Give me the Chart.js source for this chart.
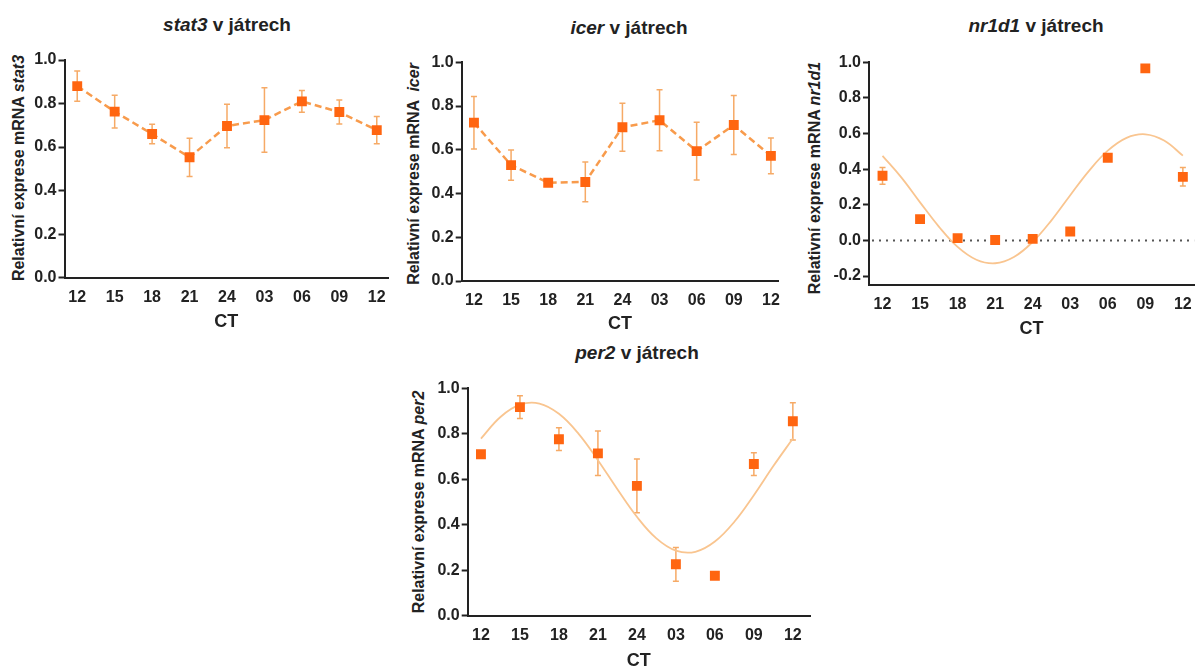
<!DOCTYPE html>
<html>
<head>
<meta charset="utf-8">
<script src="https://cdn.jsdelivr.net/npm/chart.js@4.4.1/dist/chart.umd.min.js"></script>
<style>
  html, body { margin: 0; padding: 0; background: #fff; overflow: hidden; }
  #wrap { position: relative; width: 1202px; height: 668px; }
  canvas { position: absolute; }
  .ttl, .ytl { position: absolute; font-family: 'Liberation Sans', Arial, sans-serif; font-weight: bold; color: #222; white-space: nowrap; }
  .ttl { font-size: 19px; transform: translate(-50%, -50%); }
  .ytl { font-size: 16px; transform: translate(-50%, -50%) rotate(-90deg); }
</style>
</head>
<body>
<div id="wrap">
  <div class="ttl" style="left:227px;top:25px"><i>stat3</i> v játrech</div>
  <div class="ttl" style="left:629px;top:28px"><i>icer</i> v játrech</div>
  <div class="ttl" style="left:1036px;top:26px"><i>nr1d1</i> v játrech</div>
  <div class="ttl" style="left:637px;top:353px"><i>per2</i> v játrech</div>

  <div class="ytl" style="left:19px;top:168px">Relativní exprese mRNA <i>stat3</i></div>
  <div class="ytl" style="left:414px;top:174px">Relativní exprese mRNA &nbsp;<i>icer</i></div>
  <div class="ytl" style="left:815px;top:178px">Relativní exprese mRNA <i>nr1d1</i></div>
  <div class="ytl" style="left:419px;top:502px">Relativní exprese mRNA <i>per2</i></div>

  <canvas id="stat3Chart" width="400" height="335" style="left:0;top:0"></canvas>
  <canvas id="icerChart" width="390" height="337" style="left:400px;top:0"></canvas>
  <canvas id="nr1d1Chart" width="402" height="342" style="left:800px;top:0"></canvas>
  <canvas id="per2Chart" width="420" height="334" style="left:400px;top:340px"></canvas>
</div>
<script>
// CT time points (category index) and their labels
const ctIndex = [0, 1, 2, 3, 4, 5, 6, 7, 8];
const ctLabels = ['12', '15', '18', '21', '24', '03', '06', '09', '12'];

const stat3Mean = [0.88, 0.763, 0.66, 0.553, 0.697, 0.724, 0.81, 0.761, 0.678];
const stat3Sem = [0.07, 0.075, 0.045, 0.088, 0.10, 0.148, 0.05, 0.055, 0.063];

const icerMean = [0.724, 0.53, 0.449, 0.453, 0.703, 0.735, 0.594, 0.713, 0.572];
const icerSem = [0.12, 0.069, 0.008, 0.091, 0.11, 0.14, 0.132, 0.135, 0.082];

const nr1d1Mean = [0.363, 0.12, 0.013, 0.003, 0.009, 0.05, 0.464, 0.966, 0.357];
const nr1d1Sem = [0.047, 0, 0, 0, 0, 0, 0, 0, 0.052];

const per2Mean = [0.71, 0.917, 0.776, 0.714, 0.571, 0.226, 0.176, 0.667, 0.855];
const per2Sem = [0, 0.05, 0.05, 0.098, 0.118, 0.074, 0, 0.05, 0.082];

// fitted cosinor curves, every half step
const fitIndex = [0, 0.5, 1, 1.5, 2, 2.5, 3, 3.5, 4, 4.5, 5, 5.5, 6, 6.5, 7, 7.5, 8];
const nr1d1Fit = [0.475, 0.354, 0.214, 0.078, -0.036, -0.108, -0.128, -0.093, -0.008, 0.113, 0.254, 0.391, 0.504, 0.576, 0.596, 0.561, 0.476];
const per2Fit = [0.779, 0.874, 0.928, 0.933, 0.888, 0.801, 0.684, 0.556, 0.435, 0.340, 0.286, 0.281, 0.326, 0.413, 0.530, 0.658, 0.779];

const yTicks01 = [0, 0.2, 0.4, 0.6, 0.8, 1.0];
const yTicksNr = [-0.2, 0, 0.2, 0.4, 0.6, 0.8, 1.0];

const markColor = '#FF6510';
const dashColor = '#F89B4C';
const errColor = '#F6AA66';
const fitColor = '#F9C590';
const axisColor = '#222';

Chart.defaults.font.family = "'Liberation Sans', Arial, sans-serif";
Chart.defaults.color = axisColor;

const pts = (xs, ys) => xs.map((x, i) => ({x: x, y: ys[i]}));

const errorBars = {
    id: 'errorBars',
    beforeDatasetsDraw(chart) {
        const {ctx, scales: {x, y}} = chart;
        chart.data.datasets.forEach(ds => {
            if (!ds.errors) return;
            ctx.save();
            ctx.strokeStyle = errColor;
            ctx.lineWidth = 1.5;
            ds.data.forEach((p, i) => {
                const e = ds.errors[i];
                if (!e) return;
                const px = x.getPixelForValue(p.x);
                const top = y.getPixelForValue(p.y + e);
                const bot = y.getPixelForValue(p.y - e);
                ctx.beginPath();
                ctx.moveTo(px, top); ctx.lineTo(px, bot);
                ctx.moveTo(px - 3, top); ctx.lineTo(px + 3, top);
                ctx.moveTo(px - 3, bot); ctx.lineTo(px + 3, bot);
                ctx.stroke();
            });
            ctx.restore();
        });
    }
};

const zeroLine = {
    id: 'zeroLine',
    beforeDatasetsDraw(chart) {
        const {ctx, chartArea, scales: {y}} = chart;
        const py = y.getPixelForValue(0);
        ctx.save();
        ctx.strokeStyle = '#555';
        ctx.lineWidth = 2;
        ctx.setLineDash([2, 5]);
        ctx.beginPath();
        ctx.moveTo(chartArea.left + 3, py);
        ctx.lineTo(chartArea.right, py);
        ctx.stroke();
        ctx.restore();
    }
};

function makeChart(id, geo, datasets, extraPlugins) {
    return new Chart(document.getElementById(id), {
        type: 'scatter',
        data: {datasets: datasets},
        plugins: [errorBars].concat(extraPlugins || []),
        options: {
            responsive: false,
            animation: false,
            layout: {padding: {left: 0, top: geo.top, right: geo.right, bottom: 0}},
            plugins: {legend: {display: false}, tooltip: {enabled: false}},
            scales: {
                x: {
                    type: 'linear',
                    min: geo.xMin,
                    max: geo.xMax,
                    afterBuildTicks: s => { s.ticks = ctIndex.map(v => ({value: v})); },
                    afterFit: s => { s.height = geo.xHeight; },
                    grid: {display: false, drawTicks: false},
                    border: {color: axisColor, width: 2},
                    ticks: {
                        padding: 10,
                        autoSkip: false,
                        maxRotation: 0,
                        font: {size: 16, weight: 'bold'},
                        callback: v => ctLabels[v]
                    },
                    title: {display: true, text: 'CT', font: {size: 18, weight: 'bold'}, padding: {top: 0, bottom: 2}}
                },
                y: {
                    min: geo.yMin,
                    max: 1.0,
                    afterBuildTicks: s => { s.ticks = geo.yTicks.map(v => ({value: v})); },
                    afterFit: s => { s.width = geo.yWidth; },
                    grid: {drawOnChartArea: false, drawTicks: true, tickLength: 6, tickWidth: 2, tickColor: axisColor},
                    border: {color: axisColor, width: 2},
                    ticks: {
                        padding: 2,
                        font: {size: 16, weight: 'bold'},
                        callback: v => v.toFixed(1)
                    }
                }
            }
        }
    });
}

const markerStyle = {
    pointStyle: 'rect',
    pointRadius: 7,
    pointHoverRadius: 7,
    pointBackgroundColor: markColor,
    pointBorderWidth: 0
};

const stat3Chart = makeChart('stat3Chart',
    {top: 60, right: 12, xHeight: 57.3, yWidth: 64.5, xMin: -0.34, xMax: 8.3, yMin: 0, yTicks: yTicks01},
    [Object.assign({
        data: pts(ctIndex, stat3Mean),
        errors: stat3Sem,
        showLine: true,
        borderColor: dashColor,
        borderWidth: 2.5,
        borderDash: [7, 4]
    }, markerStyle)]
);

const icerChart = makeChart('icerChart',
    {top: 62.3, right: 8.3, xHeight: 56, yWidth: 61.7, xMin: -0.33, xMax: 8.205, yMin: 0, yTicks: yTicks01},
    [Object.assign({
        data: pts(ctIndex, icerMean),
        errors: icerSem,
        showLine: true,
        borderColor: dashColor,
        borderWidth: 2.5,
        borderDash: [7, 4]
    }, markerStyle)]
);

const nr1d1Chart = makeChart('nr1d1Chart',
    {top: 62.3, right: 0.6, xHeight: 57, yWidth: 69, xMin: -0.36, xMax: 8.3, yMin: -0.25, yTicks: yTicksNr},
    [
        Object.assign({data: pts(ctIndex, nr1d1Mean), errors: nr1d1Sem, showLine: false}, markerStyle),
        {data: pts(fitIndex, nr1d1Fit), showLine: true, pointRadius: 0, borderColor: fitColor, borderWidth: 1.8, tension: 0.4}
    ],
    [zeroLine]
);

const per2Chart = makeChart('per2Chart',
    {top: 48.3, right: 10, xHeight: 58.3, yWidth: 67.7, xMin: -0.34, xMax: 8.44, yMin: 0, yTicks: yTicks01},
    [
        Object.assign({data: pts(ctIndex, per2Mean), errors: per2Sem, showLine: false}, markerStyle),
        {data: pts(fitIndex, per2Fit), showLine: true, pointRadius: 0, borderColor: fitColor, borderWidth: 1.8, tension: 0.4}
    ]
);
</script>
</body>
</html>
